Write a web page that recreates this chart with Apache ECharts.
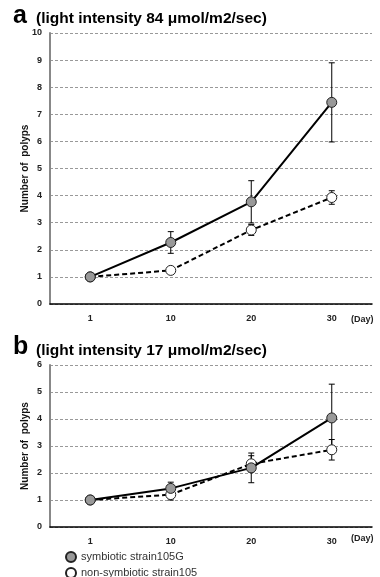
<!DOCTYPE html>
<html>
<head>
<meta charset="utf-8">
<script src="https://cdn.jsdelivr.net/npm/echarts@6/dist/echarts.min.js"></script>
<style>
  html, body { margin: 0; padding: 0; background: #fff; }
  #chart { width: 380px; height: 577px; }
</style>
</head>
<body>
<div id="chart"></div>
<script>
// data
const days = ['1', '10', '20', '30'];
const seriesNames = ['symbiotic strain105G', 'non-symbiotic strain105'];

// panel a (84 umol)
const symA = [1.0, 2.27, 3.77, 7.44];
const symAErr = [0, 0.4, 0.78, 1.46];
const nonA = [1.0, 1.24, 2.73, 3.93];
const nonAErr = [0, 0, 0.2, 0.25];

// panel b (17 umol)
const symB = [1.0, 1.43, 2.19, 4.04];
const symBErr = [0, 0.23, 0.55, 1.25];
const nonB = [1.0, 1.2, 2.34, 2.86];
const nonBErr = [0, 0.2, 0.3, 0.38];

const font = 'Liberation Sans, Arial, sans-serif';

const chart = echarts.init(document.getElementById('chart'));

function xAxis(gi) {
  return {
    gridIndex: gi,
    type: 'category',
    data: days,
    axisLine: { lineStyle: { color: '#000', width: 1.5 } },
    axisTick: { inside: true, length: 3, lineStyle: { color: '#000' } },
    axisLabel: { margin: 10, fontSize: 9, fontWeight: 'bold', color: '#222', fontFamily: font },
    splitLine: { show: false }
  };
}

function yAxis(gi, max) {
  return {
    gridIndex: gi,
    type: 'value',
    min: 0,
    max: max,
    interval: 1,
    name: 'Number of  polyps',
    nameLocation: 'middle',
    nameGap: 20,
    nameMoveOverlap: false,
    nameTextStyle: { fontSize: 10, fontWeight: 'bold', color: '#111', fontFamily: font },
    axisLine: { show: true, lineStyle: { color: '#888', width: 2 } },
    axisTick: { show: false },
    axisLabel: { margin: 8, fontSize: 9, fontWeight: 'bold', color: '#222', fontFamily: font },
    splitLine: { lineStyle: { color: '#999', width: 1, type: [3, 2] } }
  };
}

function lineSeries(name, gi, values, fill, dashed, z) {
  return {
    name: name,
    type: 'line',
    xAxisIndex: gi,
    yAxisIndex: gi,
    data: values,
    z: z,
    symbol: 'circle',
    symbolSize: 10,
    showAllSymbol: true,
    lineStyle: { color: '#000', width: 2, type: dashed ? [5, 3] : 'solid' },
    itemStyle: { color: fill, borderColor: '#222', borderWidth: 1 }
  };
}

// vertical error bars with small caps
function errorBars(gi, mean, err) {
  return {
    type: 'custom',
    xAxisIndex: gi,
    yAxisIndex: gi,
    z: 2,
    silent: true,
    data: mean.map((m, i) => [i, m - err[i], m + err[i]]),
    encode: { x: 0, y: [1, 2] },
    renderItem: function (params, api) {
      if (api.value(2) - api.value(1) <= 0) return null;
      const lo = api.coord([api.value(0), api.value(1)]);
      const hi = api.coord([api.value(0), api.value(2)]);
      const w = 3;
      const st = { stroke: '#000', lineWidth: 1 };
      return {
        type: 'group',
        children: [
          { type: 'line', shape: { x1: lo[0], y1: lo[1], x2: hi[0], y2: hi[1] }, style: st },
          { type: 'line', shape: { x1: hi[0] - w, y1: hi[1], x2: hi[0] + w, y2: hi[1] }, style: st },
          { type: 'line', shape: { x1: lo[0] - w, y1: lo[1], x2: lo[0] + w, y2: lo[1] }, style: st }
        ]
      };
    }
  };
}

function legendItem(name, top) {
  return {
    left: 60,
    top: top,
    itemWidth: 10,
    itemHeight: 10,
    itemGap: 4,
    icon: 'circle',
    data: [name],
    textStyle: { fontSize: 11, color: '#333', fontFamily: font }
  };
}

const option = {
  animation: false,
  backgroundColor: '#fff',
  grid: [
    { left: 50, right: 8, top: 33, height: 271 },
    { left: 50, right: 8, top: 365, height: 162 }
  ],
  xAxis: [xAxis(0), xAxis(1)],
  yAxis: [yAxis(0, 10), yAxis(1, 6)],
  legend: [legendItem(seriesNames[0], 546), legendItem(seriesNames[1], 562)],
  graphic: [
    { type: 'text', left: 13, top: 4, style: { text: 'a', fontSize: 25, fontWeight: 'bold', fill: '#000', fontFamily: font } },
    { type: 'text', left: 36, top: 11, style: { text: '(light intensity 84 \u03bcmol/m2/sec)', fontSize: 15.5, fontWeight: 'bold', fill: '#000', fontFamily: font } },
    { type: 'text', left: 13, top: 335, style: { text: 'b', fontSize: 25, fontWeight: 'bold', fill: '#000', fontFamily: font } },
    { type: 'text', left: 36, top: 343, style: { text: '(light intensity 17 \u03bcmol/m2/sec)', fontSize: 15.5, fontWeight: 'bold', fill: '#000', fontFamily: font } },
    { type: 'text', left: 351, top: 315, style: { text: '(Day)', fontSize: 9, fontWeight: 'bold', fill: '#222', fontFamily: font } },
    { type: 'text', left: 351, top: 534, style: { text: '(Day)', fontSize: 9, fontWeight: 'bold', fill: '#222', fontFamily: font } }
  ],
  series: [
    errorBars(0, symA, symAErr),
    errorBars(0, nonA, nonAErr),
    lineSeries(seriesNames[1], 0, nonA, '#fff', true, 5),
    lineSeries(seriesNames[0], 0, symA, '#999', false, 6),
    errorBars(1, symB, symBErr),
    errorBars(1, nonB, nonBErr),
    lineSeries(seriesNames[1], 1, nonB, '#fff', true, 5),
    lineSeries(seriesNames[0], 1, symB, '#999', false, 6)
  ]
};

chart.setOption(option);
</script>
</body>
</html>
